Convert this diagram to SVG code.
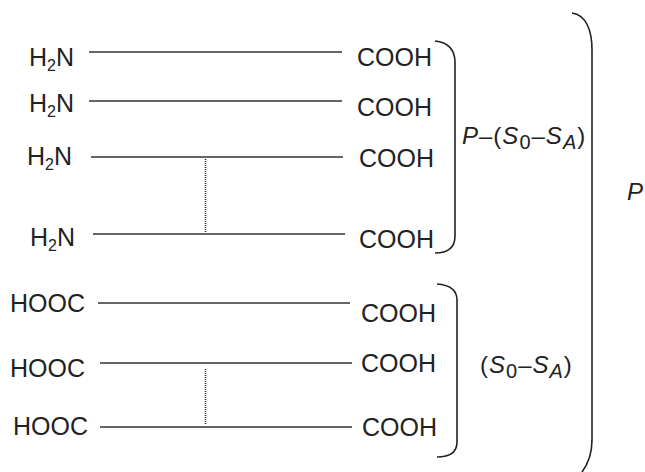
<svg xmlns="http://www.w3.org/2000/svg" width="645" height="472" viewBox="0 0 645 472">
<style>
text{font-family:"Liberation Sans",Arial,sans-serif;font-size:25px;fill:#222}
.lab{font-size:24px;letter-spacing:1px}
.it{font-style:italic}
.ln{stroke:#333;stroke-width:1.4;fill:none}
.dot{stroke:#222;stroke-width:1.5;stroke-dasharray:1 1;fill:none}
.br{stroke:#222;stroke-width:1.6;fill:none}
</style>
<rect width="645" height="472" fill="#fff"/>
<g id="connectors">
<line class="ln" x1="89" y1="52" x2="342" y2="52"/>
<line class="ln" x1="89" y1="101" x2="342" y2="101"/>
<line class="ln" x1="91" y1="157" x2="343" y2="157"/>
<line class="ln" x1="93" y1="234" x2="345" y2="234"/>
<line class="dot" x1="205.5" y1="159" x2="205.5" y2="232"/>
<line class="ln" x1="98" y1="303" x2="350" y2="303"/>
<line class="ln" x1="100" y1="363" x2="352" y2="363"/>
<line class="ln" x1="100" y1="427" x2="352" y2="427"/>
<line class="dot" x1="205.5" y1="369" x2="205.5" y2="425"/>
</g>
<g id="n-left">
<text x="29" y="66">H<tspan font-size="16" dy="5">2</tspan><tspan dy="-5">N</tspan></text>
<text x="29" y="112">H<tspan font-size="16" dy="5">2</tspan><tspan dy="-5">N</tspan></text>
<text x="27" y="165">H<tspan font-size="16" dy="5">2</tspan><tspan dy="-5">N</tspan></text>
<text x="30" y="246">H<tspan font-size="16" dy="5">2</tspan><tspan dy="-5">N</tspan></text>
<text x="10" y="312">HOOC</text>
<text x="10" y="377">HOOC</text>
<text x="13" y="435">HOOC</text>
</g>
<g id="n-right">
<text x="357" y="66">COOH</text>
<text x="357" y="116">COOH</text>
<text x="359" y="167">COOH</text>
<text x="359" y="248">COOH</text>
<text x="361" y="322">COOH</text>
<text x="361" y="372">COOH</text>
<text x="362" y="436">COOH</text>
</g>
<g id="brackets">
<path class="br" d="M435,41 C448,42 455,50 455,62 L455,236 C455,248 447,253 435,253"/>
<path class="br" d="M437,284 C450,285 457,290 457,300 L457,442 C457,452 450,457 437,457"/>
<path class="br" d="M572,13 C586,15 592,30 592,50 L592,440 C592,455 588,464 582,472"/>
</g>
<g id="labels">
<text class="lab" x="462" y="144"><tspan class="it">P</tspan>–(<tspan class="it">S</tspan><tspan font-size="20" dy="5">0</tspan><tspan dy="-5">–</tspan><tspan class="it">S</tspan><tspan class="it" font-size="20" dy="5">A</tspan><tspan dy="-5">)</tspan></text>
<text class="lab" x="480" y="373">(<tspan class="it">S</tspan><tspan font-size="20" dy="5">0</tspan><tspan dy="-5">–</tspan><tspan class="it">S</tspan><tspan class="it" font-size="20" dy="5">A</tspan><tspan dy="-5">)</tspan></text>
<text class="lab it" x="627" y="200">P</text>
</g>
</svg>
